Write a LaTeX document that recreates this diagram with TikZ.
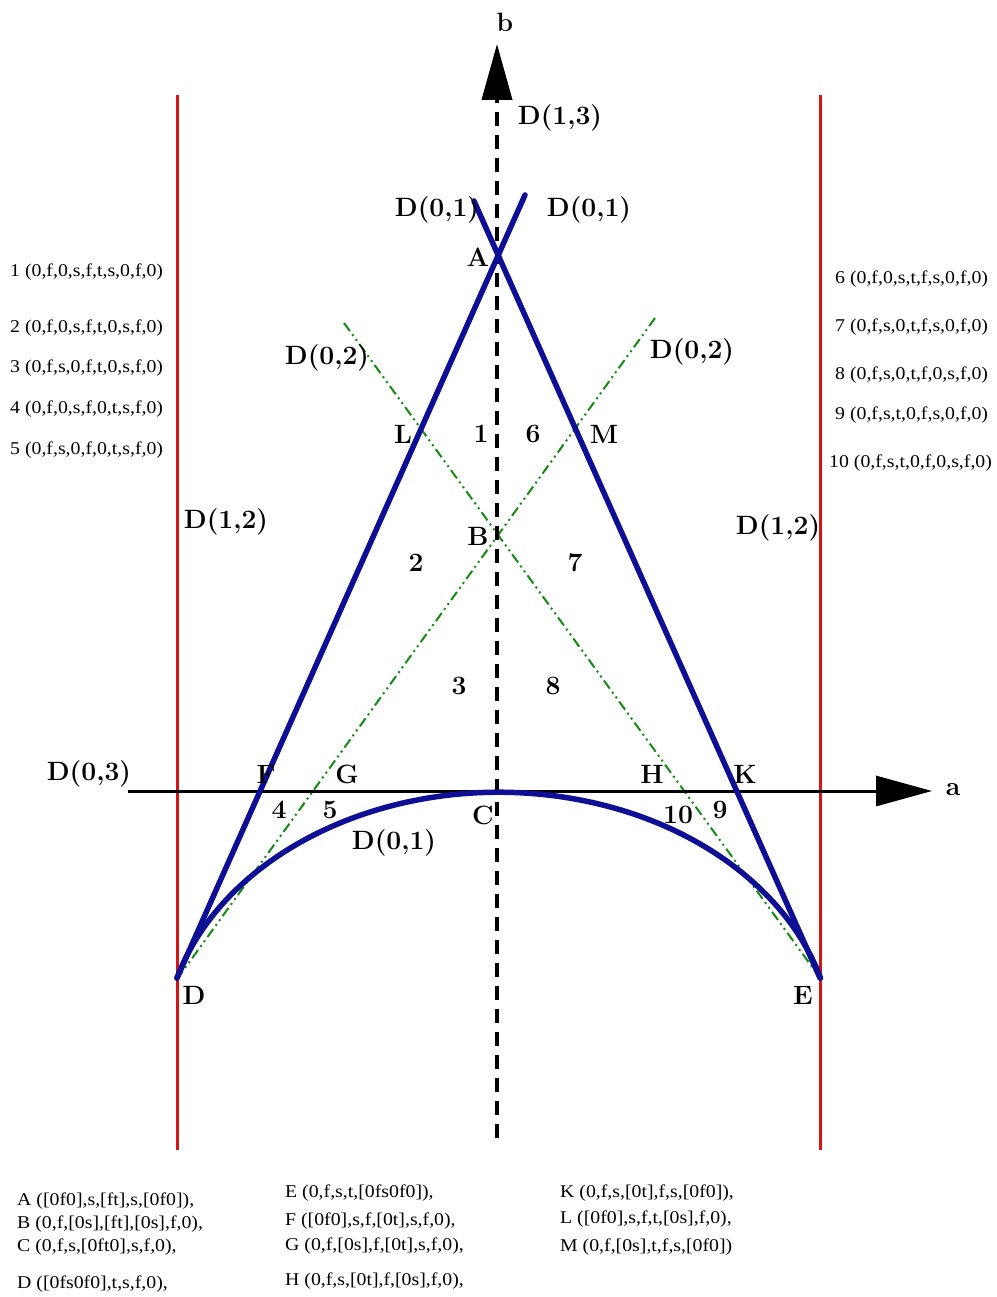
\documentclass[tikz,border=0pt]{standalone}
\usepackage{fontspec}
\newfontfamily\smallserif[FakeStretch=1.1]{Liberation Serif}
\usetikzlibrary{arrows.meta}
\definecolor{navy}{RGB}{15,15,150}
\definecolor{redline}{RGB}{215,20,20}
\definecolor{greenline}{RGB}{20,140,20}
\tikzset{
  lab/.style={font=\fontsize{26.5}{30}\selectfont\bfseries, inner sep=0pt},
  small/.style={font=\fontsize{18}{21}\selectfont\smallserif, inner sep=0pt, anchor=west},
  blueline/.style={draw=navy, line width=5.5pt, line cap=round},
  redl/.style={draw=redline, line width=3pt},
  greenl/.style={draw=greenline, line width=2pt, dash pattern=on 10pt off 4pt on 2pt off 4pt on 2pt off 4pt},
  axis/.style={draw=black, line width=3pt},
  tri/.style={-{Triangle[length=56pt,width=30pt]}}
}
\begin{document}
\begin{tikzpicture}[x=1pt,y=-1pt]
\useasboundingbox[fill=white] (0,0) rectangle (996,1297);
% coordinates
\coordinate (A) at (497,258);
\coordinate (B) at (497,533);
\coordinate (C) at (498.5,793);
\coordinate (D) at (177,978);
\coordinate (E) at (820,978);
\coordinate (T1) at (525,195);
\coordinate (T2) at (474,201);
\coordinate (G1) at (344,323);
\coordinate (G2) at (818,975);
\coordinate (G3) at (655,318);
\coordinate (G4) at (180,975);
\coordinate (R1t) at (177,95);
\coordinate (R1b) at (177,1150);
\coordinate (R2t) at (820,95);
\coordinate (R2b) at (820,1150);
\coordinate (Vb) at (497,1138);
\coordinate (Vt) at (497,44);
\coordinate (Hl) at (128,791);
\coordinate (Hr) at (932,791);
% red lines
\draw[redl] (R1t) -- (R1b);
\draw[redl] (R2t) -- (R2b);
% green lines
\draw[greenl] (G1) -- (G2);
\draw[greenl] (G3) -- (G4);
% axes
\draw[axis, tri] (Hl) -- (Hr);
\draw[axis, line width=4pt, dash pattern=on 14pt off 9pt, tri] (Vb) -- (Vt);
% blue
\draw[blueline] (D) -- (T1);
\draw[blueline] (E) -- (T2);
\draw[blueline] (D) arc[start angle=163.9, end angle=16.1, x radius=334.9pt, y radius=257pt];
% bold labels
\node[lab] (lb) at (505,22) {b};
\node[lab] (la) at (953,790) {a};
\node[lab] (l13) at (560,118) {D(1,3)};
\node[lab] (l01a) at (437,210) {D(0,1)};
\node[lab] (l01b) at (589,210) {D(0,1)};
\node[lab] (lA) at (478,257) {A};
\node[lab] (l02a) at (327,358) {D(0,2)};
\node[lab] (l02b) at (692,352) {D(0,2)};
\node[lab] (lL) at (403,434) {L};
\node[lab] (l1) at (481,434) {1};
\node[lab] (l6) at (533,434) {6};
\node[lab] (lM) at (604,434) {M};
\node[lab] (l12a) at (226,522) {D(1,2)};
\node[lab] (l12b) at (778,528) {D(1,2)};
\node[lab] (lB) at (478,536) {B};
\node[lab] (l2) at (416,563) {2};
\node[lab] (l7) at (575,563) {7};
\node[lab] (l3) at (459,686) {3};
\node[lab] (l8) at (553,686) {8};
\node[lab] (l03) at (89,774) {D(0,3)};
\node[lab] (lF) at (266,774) {F};
\node[lab] (lG) at (347,774) {G};
\node[lab] (lH) at (652,774) {H};
\node[lab] (lK) at (745,774) {K};
\node[lab] (l4) at (279,810) {4};
\node[lab] (l5) at (330,810) {5};
\node[lab] (lC) at (483,815) {C};
\node[lab] (l10) at (678,815) {10};
\node[lab] (l9) at (720,810) {9};
\node[lab] (l01c) at (394,843) {D(0,1)};
\node[lab] (lD) at (194,995) {D};
\node[lab] (lE) at (803,995) {E};
% small labels left
\node[small] (s1) at (10,272) {1 (0,f,0,s,f,t,s,0,f,0)};
\node[small] (s2) at (10,328) {2 (0,f,0,s,f,t,0,s,f,0)};
\node[small] (s3) at (10,368) {3 (0,f,s,0,f,t,0,s,f,0)};
\node[small] (s4) at (10,409) {4 (0,f,0,s,f,0,t,s,f,0)};
\node[small] (s5) at (10,450) {5 (0,f,s,0,f,0,t,s,f,0)};
% small labels right
\node[small] (s6) at (835,279) {6 (0,f,0,s,t,f,s,0,f,0)};
\node[small] (s7) at (835,327) {7 (0,f,s,0,t,f,s,0,f,0)};
\node[small] (s8) at (835,375) {8 (0,f,s,0,t,f,0,s,f,0)};
\node[small] (s9) at (835,415) {9 (0,f,s,t,0,f,s,0,f,0)};
\node[small] (s10) at (829,463) {10 (0,f,s,t,0,f,0,s,f,0)};
% bottom labels
\node[small] (bA) at (17,1201) {A ([0f0],s,[ft],s,[0f0]),};
\node[small] (bB) at (17,1224) {B (0,f,[0s],[ft],[0s],f,0),};
\node[small] (bC) at (17,1247) {C (0,f,s,[0ft0],s,f,0),};
\node[small] (bD) at (17,1284) {D ([0fs0f0],t,s,f,0),};
\node[small] (bE) at (285,1193) {E (0,f,s,t,[0fs0f0]),};
\node[small] (bF) at (285,1221) {F ([0f0],s,f,[0t],s,f,0),};
\node[small] (bG) at (285,1246) {G (0,f,[0s],f,[0t],s,f,0),};
\node[small] (bH) at (285,1281) {H (0,f,s,[0t],f,[0s],f,0),};
\node[small] (bK) at (560,1193) {K (0,f,s,[0t],f,s,[0f0]),};
\node[small] (bL) at (560,1219) {L ([0f0],s,f,t,[0s],f,0),};
\node[small] (bM) at (560,1247) {M (0,f,[0s],t,f,s,[0f0])};
\end{tikzpicture}
\end{document}
